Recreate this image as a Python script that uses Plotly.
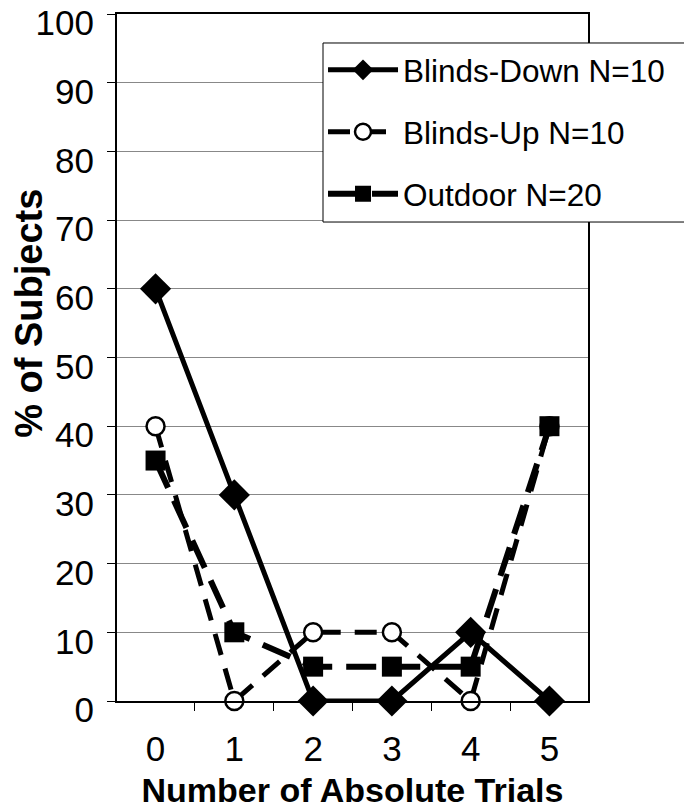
import plotly.graph_objects as go

trials = ["0", "1", "2", "3", "4", "5"]
blinds_down = [60, 30, 0, 0, 10, 0]
blinds_up = [40, 0, 10, 10, 0, 40]
outdoor = [35, 10, 5, 5, 5, 40]
names = ["Blinds-Down N=10", "Blinds-Up N=10", "Outdoor N=20"]

FONT = "Arial, Liberation Sans, sans-serif"

fig = go.Figure()
fig.add_trace(go.Scatter(
    x=trials, y=blinds_down, name=names[0], mode="lines+markers", legendgroup="a",
    line=dict(color="black", width=5),
    marker=dict(symbol="diamond", size=24, color="black"),
    cliponaxis=False))
fig.add_trace(go.Scatter(
    x=trials, y=blinds_up, name=names[1], mode="lines+markers", legendgroup="b",
    line=dict(color="black", width=5, dash="22px,14px"),
    marker=dict(symbol="circle", size=18, color="white", line=dict(color="black", width=2.5)),
    cliponaxis=False))
fig.add_trace(go.Scatter(
    x=trials, y=outdoor, name=names[2], mode="lines+markers", legendgroup="c",
    line=dict(color="black", width=6, dash="30px,14px"),
    marker=dict(symbol="square", size=20, color="black"),
    cliponaxis=False))

fig.update_layout(
    width=692, height=809,
    margin=dict(l=109, r=112, t=6, b=116),
    paper_bgcolor="white", plot_bgcolor="white",
    font=dict(family=FONT, color="black", size=30),
    showlegend=True,
    legend=dict(
        x=0.4374, y=0.958, xanchor="left", yanchor="top",
        bgcolor="rgba(0,0,0,0)", borderwidth=0,
        font=dict(size=31.5, family=FONT), itemwidth=70,
        traceorder="grouped", tracegroupgap=18,
    ),
    shapes=[dict(
        type="rect", xref="paper", yref="paper",
        x0=0.4374, x1=1.3, y0=0.6972, y1=0.9578,
        fillcolor="white", line=dict(color="black", width=1), layer="above",
    )],
    xaxis=dict(
        type="category", tickson="boundaries", ticks="outside", ticklen=8,
        tickcolor="black", showline=True, linecolor="black", linewidth=2,
        mirror=True, showgrid=False, tickfont=dict(size=35),
        ticklabelstandoff=16, automargin=False,
        title=dict(text="<b>Number of Absolute Trials</b>", font=dict(size=34), standoff=11),
    ),
    yaxis=dict(
        range=[0, 100], dtick=10, ticks="outside", ticklen=8, tickcolor="black",
        showline=True, linecolor="black", linewidth=2, mirror=True,
        showgrid=True, gridcolor="#888888", gridwidth=1, zeroline=False,
        tickfont=dict(size=35), ticklabeloverflow="allow",
        ticklabelstandoff=6, ticklabelshift=9, automargin=False,
    ),
    annotations=[dict(
        text="<b>% of Subjects</b>", textangle=-90, showarrow=False,
        xref="paper", yref="paper", x=-0.187, y=0.565,
        xanchor="center", yanchor="middle", font=dict(size=38),
    )],
)

fig.write_html("out.html")
